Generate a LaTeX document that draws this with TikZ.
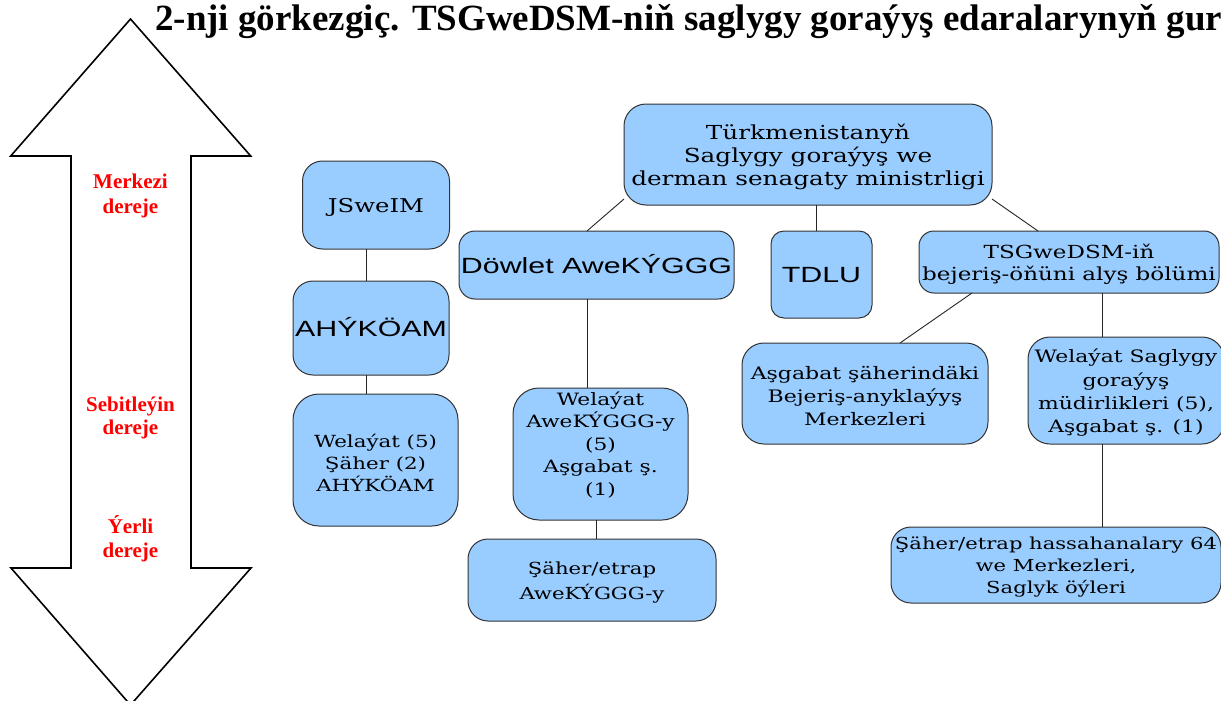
\documentclass[tikz,border=0pt]{standalone}
\usepackage{fontspec}
\newfontfamily\titlefont{Liberation Serif}
\newfontfamily\boxserif[FakeStretch=1.28]{DejaVu Serif}
\newfontfamily\boxsans[FakeStretch=1.38]{Liberation Sans}
\definecolor{boxblue}{HTML}{99CCFF}
\definecolor{boxline}{HTML}{333333}
\begin{document}
\begin{tikzpicture}[x=1pt,y=-1pt,
  bx/.style={draw=boxline,line width=1pt,fill=boxblue,rounded corners=#1,inner sep=0pt,outer sep=0pt},
  bx/.default=18pt,
  tser/.style 2 args={font={\boxserif\fontsize{#1}{#2}\selectfont},align=center,inner sep=0pt,yshift=-2.5pt},
  tsan/.style={font={\boxsans\fontsize{22}{26}\selectfont},text height=16pt,text depth=0pt,inner sep=0pt},
  con/.style={draw=black!85,line width=0.9pt},
  lvl/.style={font={\titlefont\bfseries\fontsize{21}{24}\selectfont},text=red,anchor=base,inner sep=0pt},
]
\useasboundingbox (0,0) rectangle (1221,701);
\fill[white] (0,0) rectangle (1221,701);
\clip (0,0) rectangle (1221,701);

% double arrow
\draw[line width=1.6pt,line join=miter,fill=white]
  (130.5,19) -- (250.7,156) -- (191,156) -- (191,568) -- (251,568) -- (130.5,705)
  -- (11,568) -- (71,568) -- (71,156) -- (10.7,156) -- cycle;

% title
\node[font={\titlefont\bfseries\fontsize{37}{40}\selectfont},anchor=base west,inner sep=0pt] (title) at (155,31)
  {2-nji görkezgiç. TSGweDSM-niň saglygy goraýyş edaralarynyň gur};

% level labels
\node[lvl] (m1) at (130.5,188) {Merkezi};
\node[lvl] (m2) at (130.5,213) {dereje};
\node[lvl] (s1) at (130.5,411) {Sebitleýin};
\node[lvl] (s2) at (130.5,434) {dereje};
\node[lvl] (y1) at (130.5,533) {Ýerli};
\node[lvl] (y2) at (130.5,557) {dereje};

% boxes
\node[bx=22pt,minimum width=368pt,minimum height=101pt] (min) at (808,154.5) {};
\node[bx=20pt,minimum width=147pt,minimum height=88pt] (jsw) at (376,205) {};
\node[bx=20pt,minimum width=156pt,minimum height=94pt] (ahy) at (371,328) {};
\node[bx=26pt,minimum width=165pt,minimum height=132pt] (wel5) at (375.5,460) {};
\node[bx=16pt,minimum width=275pt,minimum height=68pt] (dow) at (596.5,265) {};
\node[bx=13pt,minimum width=101pt,minimum height=87pt] (tdlu) at (821.5,274.5) {};
\node[bx=15pt,minimum width=300pt,minimum height=62pt] (tsg) at (1069,262) {};
\node[bx=26pt,minimum width=175pt,minimum height=132pt] (welA) at (600.5,454) {};
\node[bx=20pt,minimum width=248pt,minimum height=82pt] (sher) at (592,580) {};
\node[bx=22pt,minimum width=246pt,minimum height=101pt] (asg) at (865,393.5) {};
\node[bx=22pt,minimum width=196pt,minimum height=107pt] (wsm) at (1126,390.5) {};
\node[bx=20pt,minimum width=330pt,minimum height=76pt] (hos) at (1056,565) {};

% texts
\node[tser={19.3}{23}] (minT) at (min.center) {Türkmenistanyň\\ Saglygy goraýyş we\\ derman senagaty ministrligi};
\node[tser={19}{23},text height=14pt,text depth=0pt,yshift=2.5pt] (jswT) at (jsw.center) {JSweIM};
\node[tsan] (ahyT) at (ahy.center) {AHÝKÖAM};
\node[tser={16.7}{22}] (wel5T) at (wel5.center) {Welaýat (5)\\ Şäher (2)\\ AHÝKÖAM};
\node[tsan] (dowT) at (dow.center) {Döwlet AweKÝGGG};
\node[tsan] (tdluT) at (tdlu.center) {TDLU};
\node[tser={18}{22}] (tsgT) at (tsg.center) {TSGweDSM-iň\\ bejeriş-öňüni alyş bölümi};
\node[tser={17}{22.5},text depth=22pt,yshift=2pt] (welAT) at (welA.center) {Welaýat\\ AweKÝGGG-y\\ (5)\\ Aşgabat ş.\\ (1)};
\node[tser={16.6}{25}] (sherT) at (sher.center) {Şäher/etrap\\ AweKÝGGG-y};
\node[tser={17.2}{23}] (asgT) at (asg.center) {Aşgabat şäherindäki\\ Bejeriş-anyklaýyş\\ Merkezleri};
\node[tser={17.1}{23.3}] (wsmT) at (wsm.center) {Welaýat Saglygy\\ goraýyş\\ müdirlikleri (5),\\ Aşgabat ş. (1)};
\node[tser={16.5}{22}] (hosT) at (hos.center) {Şäher/etrap hassahanalary 64\\ we Merkezleri,\\ Saglyk öýleri};

% connectors
\draw[con] ([yshift=6pt]min.south west) -- ([xshift=-9.5pt]dow.north);
\draw[con] ([xshift=-5pt]tdlu.north) -- ([xshift=-5pt]tdlu.north |- min.south);
\draw[con] ([yshift=6pt]min.south east) -- ([xshift=-31pt]tsg.north);
\draw[con] ([xshift=-9.3pt]jsw.south) -- ([xshift=-9.3pt]jsw.south |- ahy.north);
\draw[con] ([xshift=-4.3pt]ahy.south) -- ([xshift=-4.3pt]ahy.south |- wel5.north);
\draw[con] ([xshift=-9.5pt]dow.south) -- ([xshift=-9.5pt]dow.south |- welA.north);
\draw[con] ([xshift=-4.5pt]welA.south) -- ([xshift=-4.5pt]welA.south |- sher.north);
\draw[con] ([xshift=53pt]tsg.south west) -- ([xshift=35pt]asg.north);
\draw[con] ([xshift=-24pt]wsm.north) -- ([xshift=-24pt]wsm.north |- tsg.south);
\draw[con] ([xshift=-24pt]wsm.south) -- ([xshift=-24pt]wsm.south |- hos.north);
\end{tikzpicture}
\end{document}
